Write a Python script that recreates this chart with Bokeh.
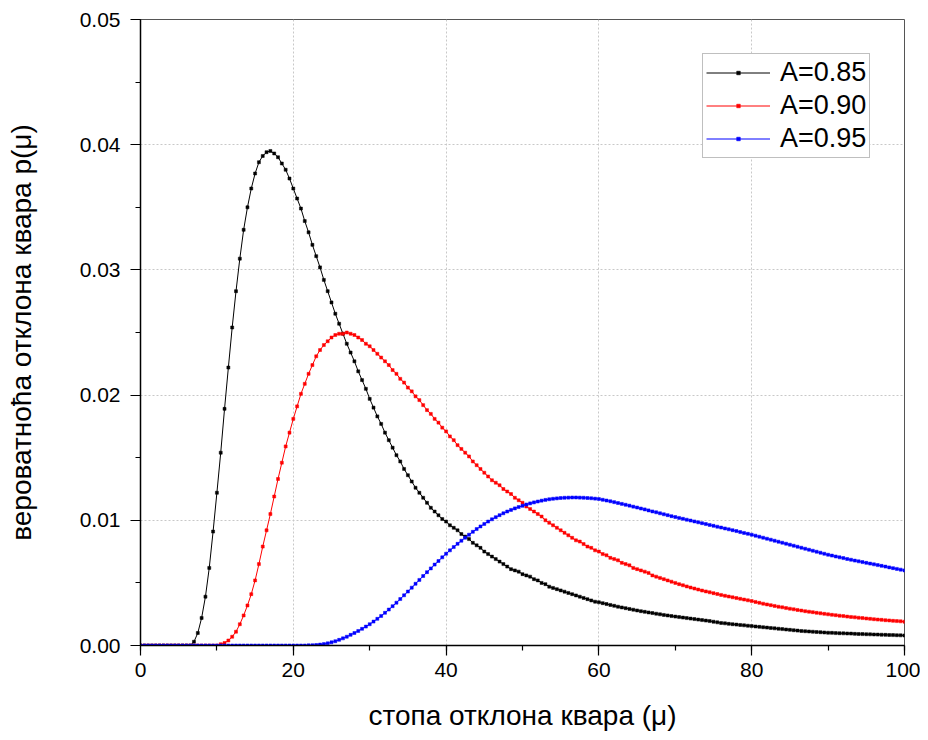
from bokeh.plotting import figure
from bokeh.models import (Range1d, SingleIntervalTicker, PrintfTickFormatter,
                          Legend, LegendItem)
from bokeh.embed import file_html
from bokeh.resources import INLINE

# x grid: failure-deviation rate mu, sampled every 0.5
MU = [i * 0.5 for i in range(201)]

# A = 0.85 (black)
P_085 = [
    0, 0, 0, 0, 0, 0, 0, 0, 0, 0, 0, 0, 0, 0, 0.0003, 0.0010, 0.0022, 0.0039, 0.0062, 0.0091,
    0.0122, 0.0154, 0.0189, 0.0222, 0.0254, 0.0283, 0.0309, 0.0332, 0.0350, 0.0365,
    0.0377, 0.0386, 0.0391, 0.0394, 0.0395, 0.0393, 0.0390, 0.0385, 0.0380, 0.0373,
    0.0365, 0.0357, 0.0349, 0.0339, 0.0330, 0.0320, 0.0311, 0.0302, 0.0292, 0.0283,
    0.0274, 0.0265, 0.0257, 0.0249, 0.0241, 0.0234, 0.0227, 0.0219, 0.0212, 0.0205,
    0.0197, 0.0190, 0.0183, 0.0177, 0.0170, 0.0164, 0.0158, 0.0152, 0.0147, 0.0141,
    0.0136, 0.0131, 0.0126, 0.0122, 0.0118, 0.0114, 0.0110, 0.0107, 0.0104, 0.0101,
    0.0099, 0.0096, 0.0094, 0.0092, 0.0089, 0.0087, 0.0085, 0.0082, 0.0080, 0.0078,
    0.0075, 0.0073, 0.0071, 0.0069, 0.0067, 0.0065, 0.0063, 0.0061, 0.0060, 0.0059,
    0.0057, 0.0056, 0.0055, 0.0053, 0.0052, 0.0050, 0.0049, 0.0047, 0.0046, 0.0045,
    0.0044, 0.0043, 0.0042, 0.0041, 0.0040, 0.0039, 0.0038, 0.0037, 0.0036, 0.0035,
    0.00345, 0.00338, 0.00331, 0.00324, 0.00317, 0.00310, 0.00304, 0.00298, 0.00292, 0.00286,
    0.00280, 0.00274, 0.00269, 0.00264, 0.00259, 0.00254, 0.00249, 0.00244, 0.00240, 0.00235,
    0.00231, 0.00227, 0.00223, 0.00219, 0.00215, 0.00211, 0.00207, 0.00203, 0.00199, 0.00195,
    0.00190, 0.00185, 0.00180, 0.00177, 0.00173, 0.00170, 0.00167, 0.00164, 0.00161, 0.00158,
    0.00155, 0.00152, 0.00149, 0.00146, 0.00143, 0.00140, 0.00137, 0.00134, 0.00131, 0.00128,
    0.00125, 0.00122, 0.00119, 0.00116, 0.00114, 0.00112, 0.00110, 0.00108, 0.00106, 0.00104,
    0.00102, 0.00101, 0.00099, 0.00098, 0.00097, 0.00096, 0.00095, 0.00093, 0.00092, 0.00091,
    0.00090, 0.00089, 0.00088, 0.00087, 0.00086, 0.00085, 0.00084, 0.00083, 0.00082, 0.00081,
    0.00080,
]

# A = 0.90 (red)
P_090 = [
    0, 0, 0, 0, 0, 0, 0, 0, 0, 0, 0, 0, 0, 0, 0, 0, 0, 0, 0, 0,
    0.0, 0.0001, 0.0002, 0.0004, 0.0007, 0.0011, 0.0017, 0.0024, 0.0032, 0.0041,
    0.0052, 0.0065, 0.0079, 0.0092, 0.0105, 0.0119, 0.0133, 0.0146, 0.0159, 0.0170,
    0.0181, 0.0191, 0.0201, 0.0209, 0.0217, 0.0224, 0.0231, 0.0236, 0.0240, 0.0243,
    0.0246, 0.0248, 0.0249, 0.0249, 0.0250, 0.0249, 0.0248, 0.0246, 0.0244, 0.0241,
    0.0239, 0.0236, 0.0233, 0.0230, 0.0227, 0.0224, 0.0220, 0.0217, 0.0213, 0.0210,
    0.0206, 0.0203, 0.0199, 0.0196, 0.0192, 0.0188, 0.0185, 0.0181, 0.0178, 0.0174,
    0.0171, 0.0167, 0.0164, 0.0160, 0.0157, 0.0154, 0.0151, 0.0147, 0.0144, 0.0141,
    0.0138, 0.0135, 0.0132, 0.0130, 0.0128, 0.0125, 0.0123, 0.0121, 0.0118, 0.0116,
    0.0114, 0.0111, 0.0109, 0.0107, 0.0105, 0.0103, 0.0100, 0.0098, 0.0096, 0.0094,
    0.0092, 0.0090, 0.0088, 0.0086, 0.0084, 0.0083, 0.0081, 0.0079, 0.0078, 0.0076,
    0.0075, 0.0073, 0.0072, 0.0070, 0.0069, 0.0068, 0.0066, 0.0065, 0.0064, 0.0062,
    0.0061, 0.0060, 0.0059, 0.0058, 0.0056, 0.0055, 0.0054, 0.0053, 0.0052, 0.0051,
    0.00500, 0.00490, 0.00481, 0.00472, 0.00463, 0.00455, 0.00447, 0.00439, 0.00432, 0.00425,
    0.00418, 0.00411, 0.00404, 0.00397, 0.00391, 0.00385, 0.00379, 0.00373, 0.00367, 0.00361,
    0.00355, 0.00348, 0.00341, 0.00334, 0.00328, 0.00322, 0.00316, 0.00310, 0.00305, 0.00299,
    0.00294, 0.00289, 0.00284, 0.00279, 0.00274, 0.00270, 0.00266, 0.00261, 0.00257, 0.00253,
    0.00249, 0.00245, 0.00242, 0.00238, 0.00235, 0.00231, 0.00228, 0.00225, 0.00222, 0.00219,
    0.00216, 0.00213, 0.00210, 0.00207, 0.00205, 0.00202, 0.00200, 0.00197, 0.00195, 0.00193,
    0.00190,
]

# A = 0.95 (blue)
P_095 = [
    0, 0, 0, 0, 0, 0, 0, 0, 0, 0, 0, 0, 0, 0, 0, 0, 0, 0, 0, 0,
    0, 0, 0, 0, 0, 0, 0, 0, 0, 0, 0, 0, 0, 0, 0, 0, 0, 0, 0, 0,
    0, 0, 0, 0, 0.00001, 0.00002, 0.00004, 0.00007, 0.00011, 0.00017,
    0.00025, 0.00034, 0.00045, 0.00057, 0.00070, 0.00085, 0.00100, 0.00116, 0.00133, 0.00151,
    0.00170, 0.00191, 0.00213, 0.00236, 0.00261, 0.00287, 0.00314, 0.00342, 0.00371, 0.00401,
    0.00431, 0.00462, 0.00493, 0.00524, 0.00555, 0.00586, 0.00616, 0.00646, 0.00675, 0.00704,
    0.00733, 0.00760, 0.00786, 0.00812, 0.00837, 0.00861, 0.00885, 0.00908, 0.00930, 0.00951,
    0.00971, 0.00990, 0.01008, 0.01025, 0.01041, 0.01056, 0.01070, 0.01083, 0.01095, 0.01106,
    0.01116, 0.01126, 0.01135, 0.01143, 0.01150, 0.01157, 0.01163, 0.01168, 0.01172, 0.01175,
    0.01178, 0.01180, 0.01181, 0.01182, 0.01182, 0.01181, 0.01180, 0.01178, 0.01176, 0.01173,
    0.01170, 0.01164, 0.01158, 0.01152, 0.01145, 0.01138, 0.01131, 0.01124, 0.01117, 0.01109,
    0.01102, 0.01094, 0.01087, 0.01079, 0.01071, 0.01064, 0.01056, 0.01048, 0.01041, 0.01033,
    0.01026, 0.01019, 0.01012, 0.01005, 0.00998, 0.00991, 0.00984, 0.00977, 0.00970, 0.00963,
    0.00956, 0.00949, 0.00942, 0.00935, 0.00928, 0.00921, 0.00914, 0.00906, 0.00899, 0.00892,
    0.00885, 0.00877, 0.00869, 0.00861, 0.00853, 0.00845, 0.00837, 0.00829, 0.00821, 0.00813,
    0.00805, 0.00797, 0.00789, 0.00781, 0.00773, 0.00765, 0.00757, 0.00749, 0.00741, 0.00733,
    0.00725, 0.00718, 0.00711, 0.00704, 0.00698, 0.00691, 0.00685, 0.00678, 0.00672, 0.00666,
    0.00660, 0.00654, 0.00648, 0.00642, 0.00636, 0.00630, 0.00624, 0.00618, 0.00612, 0.00606,
    0.00600,
]

SERIES_LABELS = ["A=0.85", "A=0.90", "A=0.95"]
SERIES_COLORS = ["#000000", "#ff0000", "#0000ff"]
X_LABEL = "стопа отклона квара (μ)"
Y_LABEL = "вероватноћа отклона квара p(μ)"

assert len(MU) == len(P_085) == len(P_090) == len(P_095) == 201

FONT = "Liberation Sans"

p = figure(width=920, height=738, output_backend="svg", toolbar_location=None,
           x_range=Range1d(0, 100), y_range=Range1d(0, 0.05),
           min_border_left=140, min_border_right=16,
           min_border_top=19, min_border_bottom=93)
p.background_fill_color = "white"
p.border_fill_color = "white"
p.outline_line_color = "#555555"
p.outline_line_width = 1

p.xaxis.ticker = SingleIntervalTicker(interval=20, num_minor_ticks=2)
p.yaxis.ticker = SingleIntervalTicker(interval=0.01, num_minor_ticks=2)
p.yaxis.formatter = PrintfTickFormatter(format="%.2f")

for ax in (p.xaxis[0], p.yaxis[0]):
    ax.axis_line_color = "black"
    ax.axis_line_width = 1.5
    ax.major_tick_line_color = "black"
    ax.minor_tick_line_color = "black"
    ax.major_tick_line_width = 1.2
    ax.minor_tick_line_width = 1.2
    ax.major_tick_in = 0
    ax.major_tick_out = 10
    ax.minor_tick_in = 0
    ax.minor_tick_out = 5
    ax.major_label_text_font = FONT
    ax.major_label_text_font_size = "21px"
    ax.major_label_text_color = "black"
    ax.axis_label_text_font = FONT
    ax.axis_label_text_font_size = "28px"
    ax.axis_label_text_font_style = "normal"
    ax.axis_label_text_color = "black"

p.xaxis.axis_label = X_LABEL
p.yaxis.axis_label = Y_LABEL
p.xaxis.major_label_standoff = 7
p.yaxis.major_label_standoff = 10
p.xaxis.axis_label_standoff = 20
p.yaxis.axis_label_standoff = 40

for g in (p.xgrid[0], p.ygrid[0]):
    g.grid_line_color = "#c8c8c8"
    g.grid_line_dash = "2 2"
    g.grid_line_width = 1

items = []
for ys, lab, col in zip([P_085, P_090, P_095], SERIES_LABELS, SERIES_COLORS):
    lr = p.line(MU, ys, line_color=col, line_width=1)
    sr = p.scatter(MU, ys, marker="square", size=3, fill_color=col, line_color=col,
                   line_width=0.5)
    items.append(LegendItem(label=lab, renderers=[lr, sr]))

legend = Legend(items=items, location=(562, 487))
legend.label_text_font = FONT
legend.label_text_font_size = "27px"
legend.label_text_color = "black"
legend.glyph_width = 64
legend.glyph_height = 9
legend.label_height = 30
legend.label_standoff = 10
legend.padding = 3
legend.spacing = 2
legend.margin = 0
legend.border_line_color = "#808080"
legend.border_line_width = 1
legend.background_fill_color = "white"
legend.background_fill_alpha = 1
p.add_layout(legend)

open("out.html", "w").write(file_html(p, INLINE))
